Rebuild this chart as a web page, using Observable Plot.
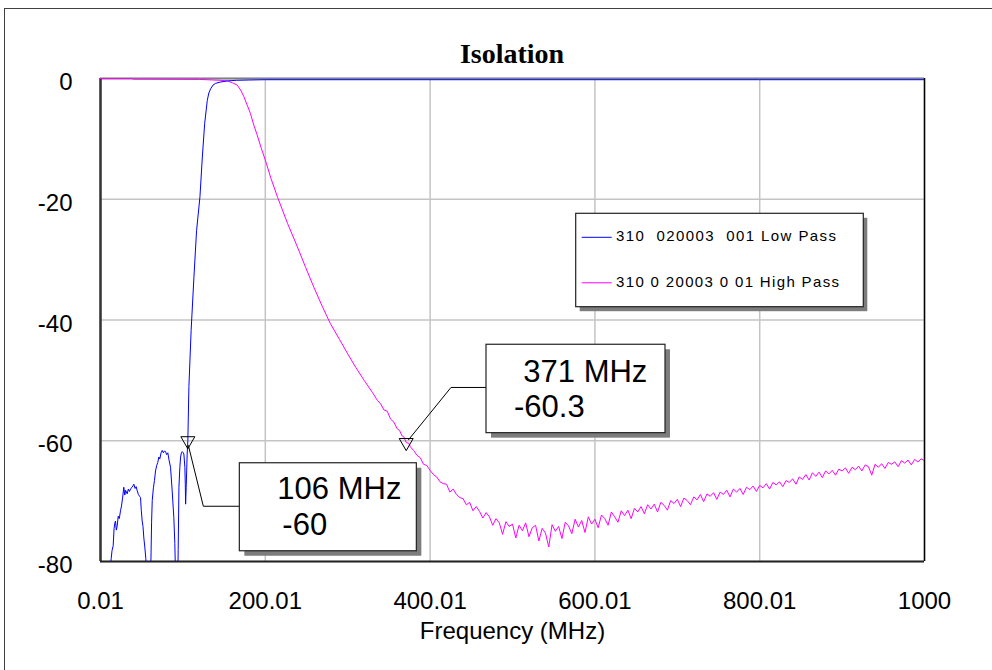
<!DOCTYPE html>
<html>
<head>
<meta charset="utf-8">
<script src="https://cdn.jsdelivr.net/npm/d3@7"></script>
<script src="https://cdn.jsdelivr.net/npm/@observablehq/plot@0.6"></script>
<style>
  html, body { margin: 0; padding: 0; background: #fff; }
  #wrap { position: relative; width: 992px; height: 670px; overflow: hidden; background: #fff; }
  #border { position: absolute; left: 4px; top: 8px; width: 1000px; height: 700px;
            border-left: 1px solid #404040; border-top: 1px solid #404040; }
  #title { position: absolute; left: 100px; width: 824px; top: 40px; text-align: center;
           font-family: "Liberation Serif", "Times New Roman", serif; font-weight: bold;
           font-size: 28px; line-height: 28px; color: #000; }
  #chart { position: absolute; left: 0; top: 50px; }
</style>
</head>
<body>
<div id="wrap">
  <div id="border"></div>
  <div id="title">Isolation</div>
  <div id="chart"></div>
</div>
<script>
// ---------- data ----------
const titleText = "Isolation";
const xLabel = "Frequency (MHz)";
const xTicks = [0.01, 200.01, 400.01, 600.01, 800.01, 1000];
const xTickLabels = ["0.01", "200.01", "400.01", "600.01", "800.01", "1000"];
const yTicks = [0, -20, -40, -60, -80];
const yTickLabels = ["0", "-20", "-40", "-60", "-80"];
const seriesNames = ["310  020003  001 Low Pass", "310 0 20003 0 01 High Pass"];
const seriesColors = ["#0000ff", "#ff00ff"];

// Low Pass: [frequency MHz, dB]
const lowPass = [
  [12,-81],[13,-79.5],[14,-78.2],[15.4,-77.4],[16.5,-74.5],[17.5,-73.6],[18.2,-73.3],[19.2,-74.8],
  [20.2,-74.2],[21.5,-72.5],[22.8,-72.9],[24.3,-71.6],[25.5,-70.8],[26.8,-69.5],[28.3,-67.7],[29.5,-69.0],
  [30.5,-68.2],[32.4,-68.8],[33.8,-68.0],[35.2,-68.4],[36.8,-67.9],[38.5,-67.7],[40.5,-67.2],[42.0,-67.9],
  [43.3,-67.6],[44.6,-68.3],[46.0,-68.9],[47.5,-69.2],[48.6,-69.4],[49.5,-71.5],[50.6,-73.3],[51.6,-74.2],
  [52.6,-76.1],[53.8,-77.6],[55.0,-79.5],[55.9,-82],[57,-86],[59.9,-86],[61.2,-80],[62.0,-73.5],
  [62.8,-69.9],[64.2,-67.8],[65.5,-66.6],[66.8,-65.0],[68.2,-64.1],[69.5,-63.6],[70.8,-62.7],[72.0,-63.0],
  [73.5,-62.0],[74.9,-61.6],[76.3,-62.0],[77.6,-61.7],[79.0,-61.8],[80.3,-62.3],[81.7,-62.0],[83.2,-63.2],
  [85.0,-64.4],[87.0,-68.3],[89.0,-72.7],[90.2,-77],[91,-82],[92,-86],[93.5,-86],[94.3,-78],
  [95.2,-67.7],[96.3,-64.4],[97.2,-62.7],[98.2,-62.0],[99.2,-61.8],[100.4,-62.0],[101.2,-62.2],[102.4,-64.4],
  [102.9,-67.2],[103.3,-70.5],[104.0,-67.7],[104.6,-65.0],[105.2,-62.2],[106,-60],[107.3,-51],[110,-41.7],
  [113.4,-32.9],[116.6,-25.2],[120.7,-19.6],[123.6,-13],[126.4,-7.5],[129.6,-3.6],[131.5,-2.4],[133.7,-1.7],
  [136.5,-1.1],[139.7,-0.8],[145,-0.6],[154,-0.4],[165,-0.3],[180,-0.25],[200,-0.2],[400,-0.2],
  [600,-0.2],[800,-0.2],[1000,-0.2]
];

// High Pass: [frequency MHz, dB]
const highPass = [
  [0.01,0],[38,0],[40,-0.1],[120,-0.15],[145,-0.3],[154,-0.4],[160,-0.7],[166,-1.1],
  [170,-1.9],[174,-3.0],[178,-4.4],[182,-5.8],[186,-7.7],[190,-9.3],[195,-11.5],[200,-13.5],
  [207,-16.6],[215,-19.7],[227,-24.0],[239,-27.9],[249,-31.3],[259,-34.6],[269,-37.7],[279,-40.6],
  [290,-43.2],[300,-45.6],[310,-47.9],[320,-50.0],[330,-52.0],[336,-53.3],[340,-53.9],[344,-54.9],
  [348,-55.1],[352,-56.4],[356,-56.9],[360,-58.0],[363,-58.3],[366,-59.2],[368,-59.3],[371,-60.3],
  [374,-60.4],[376,-61.0],
  [380,-61.6],[384,-62.4],[388,-62.8],[392,-63.9],[396,-64.1],[400,-64.9],[404,-65.6],[408,-66.0],
  [412,-66.8],[416,-67.1],[420,-67.2],[424,-68.5],[428,-68.0],[432,-68.9],[436,-69.4],[440,-69.6],
  [444,-70.6],[448,-70.2],[452,-71.6],[456,-70.9],[460,-71.7],[464,-72.8],[468,-71.9],[472,-72.6],
  [476,-74.0],[480,-72.9],[484,-73.6],[488,-75.5],[492,-73.4],[496,-74.2],[500,-73.8],[504,-76.1],
  [508,-74.0],[512,-74.9],[516,-73.6],[520,-75.9],[524,-74.4],[528,-74.0],[532,-76.6],[536,-74.5],
  [540,-75.3],[544,-77.6],[548,-73.9],[552,-75.0],[556,-74.2],[560,-76.2],[564,-73.5],[568,-74.1],
  [572,-75.4],[576,-73.0],[580,-74.3],[584,-73.2],[588,-75.2],[592,-72.6],[596,-73.8],[600,-73.0],
  [604,-74.4],[608,-72.3],[612,-72.9],[616,-74.0],[620,-71.8],[624,-72.6],[628,-73.5],[632,-71.6],
  [636,-72.4],[640,-71.5],[644,-72.9],[648,-71.2],[652,-71.8],[656,-70.9],[660,-72.1],[664,-70.6],
  [668,-71.3],[672,-70.5],[676,-71.8],[680,-70.2],[684,-70.7],[688,-71.5],[692,-69.9],[696,-70.4],
  [700,-69.7],[704,-70.9],[708,-69.5],[712,-69.9],[716,-70.6],[720,-69.3],[724,-69.8],[728,-68.9],
  [732,-70.1],[736,-68.8],[740,-69.2],[744,-68.6],[748,-69.7],[752,-68.5],[756,-68.9],[760,-68.2],
  [764,-69.3],[768,-68.0],[772,-68.5],[776,-67.9],[780,-68.9],[784,-67.7],[788,-68.1],[792,-67.5],
  [796,-68.4],[800,-67.4],[804,-67.8],[808,-67.1],[812,-68.0],[816,-66.9],[820,-67.3],[824,-66.8],
  [828,-67.6],[832,-66.6],[836,-66.9],[840,-66.3],[844,-67.2],[848,-66.0],[852,-66.4],[856,-65.6],
  [860,-66.5],[864,-65.3],[868,-65.9],[872,-65.2],[876,-66.1],[880,-65.0],[884,-65.5],[888,-64.9],
  [892,-65.7],[896,-64.7],[900,-65.0],[904,-64.5],[908,-65.4],[912,-64.4],[916,-64.8],[920,-64.2],
  [924,-65.0],[928,-64.0],[932,-64.3],[936,-65.7],[940,-63.9],[944,-64.4],[948,-63.8],[952,-64.6],
  [956,-63.6],[960,-63.9],[964,-63.5],[968,-64.3],[972,-63.3],[976,-63.7],[980,-63.2],[984,-64.0],
  [988,-63.1],[992,-63.5],[996,-63.0],[1000,-63.3]
];

const markerFreqs = [106, 371];
const markerValues = [-60, -60.3];
const markerLine1 = ["106 MHz", "371 MHz"];
const markerLine2 = ["-60", "-60.3"];

// ---------- layout (pixel offsets, not data) ----------
const SVG_TOP = 50; // page offset of the svg
const annLayout = [
  { leader: [[1,5],[16,66],[52,66]], box: [52,22.5,177,88], t1: [38,36.5], t2: [43,72.5] },
  { leader: [[2.6,-2],[45.3,-54.6],[80.3,-54.6]], box: [80.3,-97.8,179,88.4], t1: [37.3,37.6], t2: [28,72.6] }
];
const FONT = '"Liberation Sans", Arial, sans-serif';

document.getElementById("title").textContent = titleText;

const lowRows = lowPass.map(([f, db]) => ({ f, db, series: seriesNames[0] }));
const highRows = highPass.map(([f, db]) => ({ f, db, series: seriesNames[1] }));
const markers = markerFreqs.map((f, i) => ({ f, db: markerValues[i] }));

const plot = Plot.plot({
  width: 992,
  height: 620,
  marginLeft: 100,
  marginRight: 68,
  marginTop: 28,
  marginBottom: 109,
  style: { fontFamily: FONT, fontSize: "24px", background: "transparent", color: "#000" },
  x: { domain: [0.01, 1000] },
  y: { domain: [-80, 0] },
  marks: [
    Plot.gridX(xTicks, { stroke: "#c4c4c4", strokeOpacity: 1, strokeWidth: 1.5 }),
    Plot.gridY(yTicks, { stroke: "#c4c4c4", strokeOpacity: 1, strokeWidth: 1.5 }),
    Plot.ruleY([0], { stroke: "#808080", strokeWidth: 2 }),
    Plot.ruleX([1000], { stroke: "#000", strokeWidth: 1.5 }),
    Plot.ruleX([0.01], { stroke: "#333", strokeWidth: 2.5 }),
    Plot.ruleY([-80], { stroke: "#222", strokeWidth: 2 }),
    Plot.line(highRows, { x: "f", y: "db", stroke: seriesColors[1], strokeWidth: 1, clip: true }),
    Plot.line(lowRows, { x: "f", y: "db", stroke: seriesColors[0], strokeWidth: 1, clip: true }),
    Plot.dot(markers, { x: "f", y: "db", symbol: "triangle", rotate: 180, r: 5.2, stroke: "#000", fill: "none", strokeWidth: 1 }),
    Plot.axisX(xTicks, { tickSize: 0, tickPadding: 30, fontSize: 24,
      tickFormat: d => xTickLabels[xTicks.indexOf(d)], label: null }),
    Plot.axisY(yTicks, { tickSize: 0, tickPadding: 28, dy: 4, fontSize: 24,
      tickFormat: d => yTickLabels[yTicks.indexOf(d)], label: null }),
    Plot.text([xLabel], { frameAnchor: "bottom", dy: 77, fontSize: 24, fill: "#000" })
  ]
});
document.getElementById("chart").appendChild(plot);

// ---------- legend & annotations ----------
const svg = d3.select(plot);
const sx = plot.scale("x"), sy = plot.scale("y");

// legend (page coordinates converted to svg coordinates)
const leg = svg.append("g").attr("transform", `translate(0,${-SVG_TOP})`);
const legBox = { x: 575.7, y: 213.3, w: 287.6, h: 93.4 };
leg.append("rect").attr("x", legBox.x + 4).attr("y", legBox.y + 4.5).attr("width", legBox.w).attr("height", legBox.h).attr("fill", "#7d7d7d");
leg.append("rect").attr("x", legBox.x).attr("y", legBox.y).attr("width", legBox.w).attr("height", legBox.h).attr("fill", "#fff").attr("stroke", "#222").attr("stroke-width", 1.2);
const legRows = [{ ly: 237.3, ty: 241.2, len: 220 }, { ly: 282.8, ty: 286.7, len: 223 }];
seriesNames.forEach((name, i) => {
  const r = legRows[i];
  leg.append("line").attr("x1", 581.7).attr("x2", 611.7).attr("y1", r.ly).attr("y2", r.ly)
     .attr("stroke", seriesColors[i]).attr("stroke-width", 1);
  leg.append("text").attr("x", 616).attr("y", r.ty).attr("font-family", FONT).attr("font-size", 15)
     .attr("text-anchor", "start").attr("fill", "#000").style("white-space", "pre")
     .attr("textLength", r.len).attr("lengthAdjust", "spacing").text(name);
});

// annotations
markers.forEach((m, i) => {
  const L = annLayout[i];
  const px = sx.apply(m.f), py = sy.apply(m.db);
  const g = svg.append("g").attr("transform", `translate(${px},${py})`);
  g.append("polyline").attr("points", L.leader.map(p => p.join(",")).join(" "))
    .attr("fill", "none").attr("stroke", "#000").attr("stroke-width", 1);
  const [bx, by, bw, bh] = L.box;
  g.append("rect").attr("x", bx + 5).attr("y", by + 5).attr("width", bw).attr("height", bh).attr("fill", "#7d7d7d");
  g.append("rect").attr("x", bx).attr("y", by).attr("width", bw).attr("height", bh)
    .attr("fill", "#fff").attr("stroke", "#222").attr("stroke-width", 1.2);
  g.append("text").attr("x", bx + L.t1[0]).attr("y", by + L.t1[1]).attr("font-family", FONT)
    .attr("text-anchor", "start").attr("font-size", 31).attr("fill", "#000").text(markerLine1[i]);
  g.append("text").attr("x", bx + L.t2[0]).attr("y", by + L.t2[1]).attr("font-family", FONT)
    .attr("text-anchor", "start").attr("font-size", 31).attr("fill", "#000").text(markerLine2[i]);
});
</script>
</body>
</html>
